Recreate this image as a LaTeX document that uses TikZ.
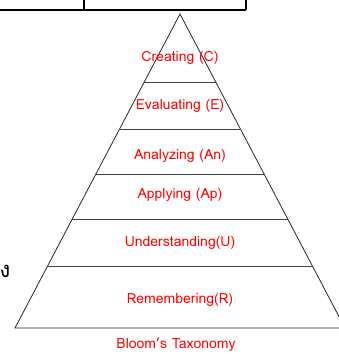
\documentclass[tikz,border=0pt]{standalone}
\usepackage{fontspec}
\setmainfont{Loma}
\newfontfamily\thaifont[Script=Thai]{Loma}
\usetikzlibrary{positioning}
\definecolor{levelcolor}{RGB}{255,0,0}

\begin{document}
\begin{tikzpicture}[
    x=1pt, y=-1pt,
    level/.style={font=\fontsize{14}{16}\selectfont, text=levelcolor, inner sep=0pt},
    divider/.style={draw=black!75, line width=0.9pt},
    side/.style={draw=black!85, line width=0.8pt},
    table/.style={draw=black, line width=2pt}
]
\useasboundingbox (0,0) rectangle (339,354);
\clip (0,0) rectangle (339,354);

% table edge at the top
\draw[table] (0,9.5) -- (246,9.5);
\draw[table] (83.5,0) -- (83.5,9.5);
\draw[table] (245.5,0) -- (245.5,9.5);

% pyramid
\coordinate (top) at (180,14);
\coordinate (bl) at (15,328);
\coordinate (br) at (345,328);
\draw[side] (bl) -- (top) -- (br) -- cycle;
\draw[divider] (144,82.7) -- (216,82.7);
\draw[divider] (119.5,129.3) -- (240.5,129.3);
\draw[divider] (96,174) -- (264,174);
\draw[divider] (72,219.3) -- (288,219.3);
\draw[divider] (47,266.7) -- (313,266.7);

% levels
\node[level] (create) at (180,58) {Creating (C)};
\node[level] (evaluate) at (180,106) {Evaluating (E)};
\node[level] (analyze) at (180,156) {Analyzing (An)};
\node[level] (apply) at (180,195) {Applying (Ap)};
\node[level] (understand) at (180,243) {Understanding(U)};
\node[level] (remember) at (180,300) {Remembering(R)};
\node[level] (bloom) at (176,345) {Bloom’s Taxonomy};

\node[font=\thaifont\fontsize{22}{24}\selectfont, inner sep=0pt] (cut) at (5,271) {ง};
\end{tikzpicture}
\end{document}
